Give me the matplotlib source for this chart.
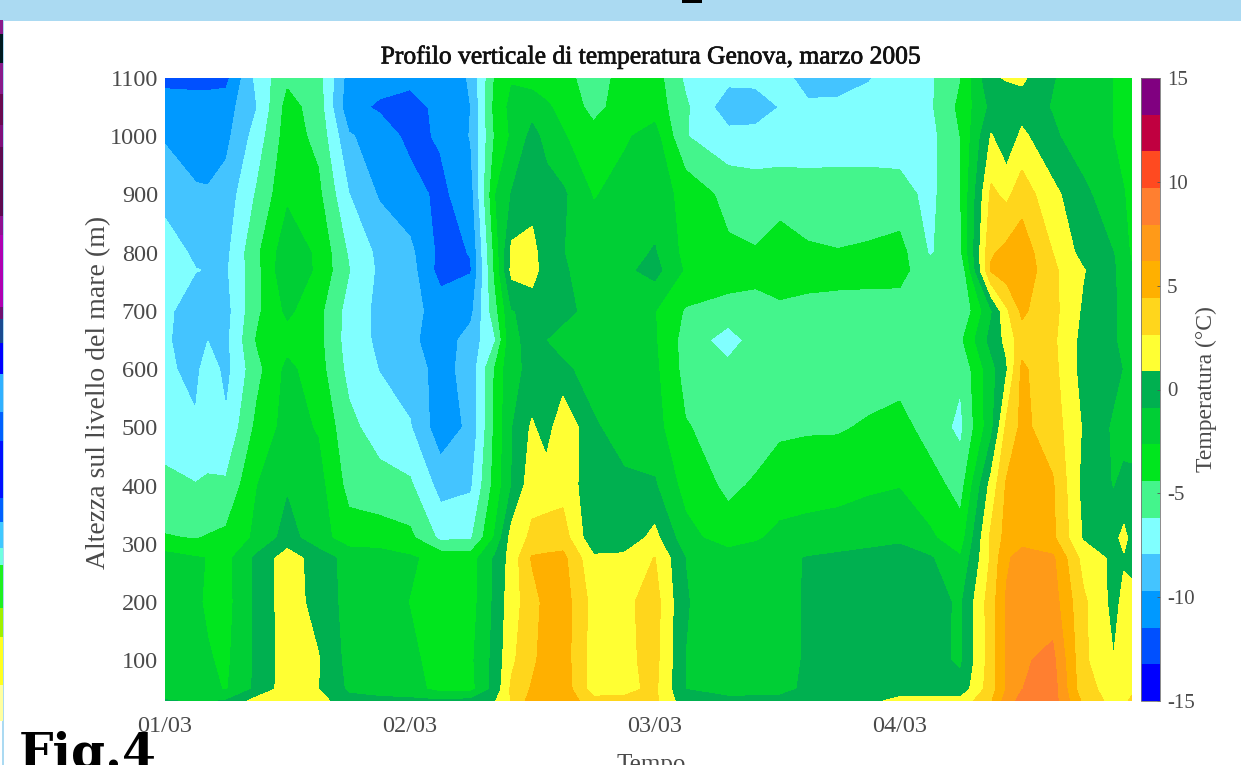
import numpy as np
import matplotlib
matplotlib.use("Agg")
import matplotlib.pyplot as plt
import matplotlib.patheffects as pe
from matplotlib.patches import Rectangle

W, H = 1241, 765

hours = [0, 3, 4.2, 6, 9, 12, 15, 18, 21, 24, 27, 30, 32.4, 34, 36, 37.4, 39, 42, 45, 48, 51,
         55.2, 57.9, 60.3, 63, 66, 69, 72, 75, 78, 81, 82.5, 84, 87, 90, 93, 94, 94.8]
heights = [1100, 1050, 1000, 900, 800, 770, 700, 650, 600, 500, 400, 310, 275, 200, 100, 50, 30]

T1100 = [-12,-12,-12,-12,-7.5,-4.8,-5.5,-10.5,-10.9,-11,-11,-9.5,-4.2,-2.8,-3.5,-3.6,-3.8,-5.3,-3.8,-3.6,-6.5,-7.5,-7.5,-7.2,-8.8,-9.2,-8.1,-7,-6.5,-4.5,0.6,1,1.2,-0.8,-1.8,-2.7,-3.1,-3.5]
T1050 = [-10.6,-10.8,-10.8,-10.5,-8,-3.8,-5.2,-11,-11.7,-12.2,-11,-9.7,-3.8,-2.2,-1.5,-2.4,-3.2,-5,-3.6,-3.4,-5.9,-9,-8.8,-7.9,-7.6,-7.3,-7.1,-7,-6.5,-4,-0.5,-0.3,0,-1,-1.8,-2.7,-3,-3.3]
T1000 = [-9.9,-10.5,-10.3,-10.2,-7.2,-3.6,-4.9,-9.5,-10.6,-11.9,-11.3,-9.6,-4.2,-2.4,-0.4,-1.4,-2.5,-3.8,-2.9,-2,-6.1,-7.4,-7.4,-7.3,-7.3,-7.2,-7.2,-7.1,-6.8,-4.4,1,-0.5,1.3,-0.6,-1.8,-2.7,-3.1,-3.4]
T900 = [-8.6,-9.5,-9.6,-9,-6,-3,-4,-7.9,-9.9,-10.8,-11.9,-10.5,-2.7,-0.8,0,-0.3,-0.6,-2.8,-2,-1.8,-3.2,-5,-5.3,-5.2,-5.3,-5.3,-5.3,-5.5,-6.7,-4.5,3,2.2,3.6,1.4,-0.5,-1.9,-2.6,-3.2]
T800 = [-7,-8.3,-8.4,-8.4,-4.8,-1.5,-3,-6.4,-8.4,-9.3,-12,-11.4,-3.8,1.3,1.6,-0.5,-0.85,-1.7,-1.6,-0.75,-3.2,-4.1,-4.3,-3.5,-4.2,-4.35,-4.2,-3.8,-6.4,-4.8,4.2,4.9,5.5,2.65,0.2,-0.9,-2,-3]
T770 = [-7,-7.9,-8,-8.2,-5,-1.2,-3,-6.1,-8.3,-9,-12.2,-11.6,-4,1.4,1.8,-0.4,-0.7,-1.7,-1.3,-0.3,-2.9,-3.4,-3.7,-3.2,-3.3,-3.5,-3.7,-3.9,-5.5,-6,4.6,5.4,5.7,3,1,-0.7,-1.8,-2.6]
T700 = [-7.6,-8.8,-8.3,-8.6,-4.8,-2.3,-3.9,-6.9,-8.4,-9.1,-10.5,-10.2,-5,-1,-0.4,-0.4,-0.4,-1.5,-1.5,-2.6,-4.6,-5.2,-5.3,-4.9,-5.3,-5.4,-5.3,-5.1,-5.7,-6.2,-1.2,2.3,4.7,3.2,0.6,-0.6,-1.7,-2.5]
T650 = [-7.7,-8.9,-8,-8.4,-4.3,-3.4,-3.9,-7,-8.3,-9.3,-10.7,-9,-6.3,-1.2,-0.5,-0.9,-1.5,-1.7,-1.9,-2.5,-5.1,-7,-5.5,-5.3,-5.3,-5.3,-5.4,-5.4,-5.5,-4.8,-0.3,1.3,3.7,3,0.3,-0.7,-1.5,-2]
T600 = [-7.6,-8.5,-7,-8.5,-5,-2.2,-3.7,-6.7,-8,-8.8,-10.4,-9,-4.2,-1.2,-0.6,-0.6,-0.6,-1.5,-1.7,-2.3,-5,-5.7,-5.4,-5.3,-5.3,-5.3,-5.3,-5.3,-5.5,-5.9,-1.6,0.6,4.7,3.2,0.2,-0.4,-1,-1.5]
T500 = [-6.9,-7.7,-6.9,-7.7,-4,-2,-2.8,-5.7,-7,-7.8,-10.8,-9.3,-4,-1,1.15,-0.2,2.5,-0.7,-1.5,-2,-4.3,-5.1,-5.3,-4.7,-4.6,-4.6,-4.2,-3.7,-5.3,-6.6,-1.5,3,4.8,3.6,0.7,-1.2,-1.6,-1.9]
T400 = [-5.8,-6.1,-6,-5.9,-2.7,-1.1,-2,-5,-5.5,-5.9,-8.6,-8.2,-3.7,-0.9,2,2,2,-0.3,-0.6,-0.7,-3.3,-4.8,-4.2,-3.6,-3.4,-3.2,-3,-2.75,-3.6,-5.2,1.5,4.6,5.6,4.6,0.3,-1,-0.4,-0.3]
T310 = [-4.3,-4.5,-4.3,-4,-2.3,-0.2,-1.9,-3.6,-3.6,-4,-6.6,-6.4,-2.4,1.6,3,3.2,3.5,-0.5,-0.3,1.4,-2,-3.6,-2.9,-2.2,-2,-1.9,-1.3,-1.1,-2.4,-3.6,3,5,5.8,4.8,0.7,0.4,1.3,0.3]
T275 = [-1.9,-2.5,-2.7,-3.2,-0.5,1.8,0,-1.5,-1.8,-2.4,-3.3,-3.5,-0.6,1.6,4.6,4.8,4.9,1.2,1.3,2.7,-0.9,-1.7,-1.6,-1.3,-0.8,-0.5,-0.5,-0.4,-0.7,-2.5,2.9,6,6.6,6.5,2,0.5,0.7,0.2]
T200 = [-1.9,-2.4,-2.9,-3.3,-0.5,1.8,0.2,-1.5,-1.8,-2.7,-3.4,-3.4,-0.5,1.9,3.6,5,5.3,2,2.2,3.4,-0.8,-1.7,-1.7,-1.5,-0.7,-0.3,-0.3,-0.3,-0.2,-1.2,3.6,6.3,7,7,3,0.3,1.3,1.6]
T100 = [-1.9,-2,-2.5,-3,-0.6,1.8,1,-1.5,-1.8,-2.3,-3.3,-3,-0.3,2.3,4,5.2,5.3,1.8,2.2,3.2,-0.9,-1.8,-1.7,-1.5,-0.7,-0.3,-0.3,-0.3,-0.3,-1.2,3.5,6.4,7.7,8.4,3,0.9,1.8,1.8]
T50 = [-1.9,-1.9,-2.2,-2.8,-0.5,1.8,0.9,-1.2,-1.7,-2,-3.2,-3.2,-0.2,3,4.6,5.3,5.5,1.8,2.2,3,-0.9,-1.8,-1.7,-1.5,-0.5,-0.3,-0.3,-0.3,-0.3,-0.3,3.6,6.3,7.9,8.8,3.2,2,2,2.2]
T30 = [-0.8,-1,-1,-0.8,1.6,1.8,1.6,-0.3,-0.4,-0.5,-0.7,-0.4,0.8,2.8,5.2,5.5,5.8,3.2,3,3,-0.2,-0.3,-0.3,-0.3,-0.3,-0.3,0.3,1.5,1.5,1.5,4.2,7,8.5,8.8,4,2,2.2,3]

temperature = [T1100, T1050, T1000, T900, T800, T770, T700, T650, T600, T500, T400, T310, T275, T200, T100, T50, T30]

band_colors = ["#0000FF", "#0050FF", "#0099FF", "#44C4FF", "#80FFFF", "#44F58C", "#00E61E", "#00CF35",
               "#00B050", "#FFFF33", "#FFD61C", "#FFB000", "#FF9A18", "#FF7F30", "#FF4A20", "#C00040", "#800080"]
levels = np.linspace(-15, 15, 18)

y_ticks = [100, 200, 300, 400, 500, 600, 700, 800, 900, 1000, 1100]
x_ticks = [0, 24, 48, 72]
x_labels = ["01/03", "02/03", "03/03", "04/03"]
cb_ticks = [-15, -10, -5, 0, 5, 10, 15]
cb_labels = ["-15", "-10", "-5", "0", "5", "10", "15"]

strip_stops = [20, 34, 63, 94, 125, 147, 216, 235, 307, 319, 343, 374, 412, 441, 498, 522, 548, 565, 608, 637, 685, 721]
strip_colors = ["#8B1A8B", "#001A20", "#8A1A8A", "#6A0A50", "#80107A", "#5F0A50", "#901090", "#B000B0", "#701070",
                "#1A4A90", "#0000FF", "#30B0FF", "#0060FF", "#0010FF", "#0060FF", "#40C8FF", "#70FFE0", "#20F020",
                "#A0F000", "#FFFF20", "#FFFFA0"]

plt.rcParams["font.family"] = ["Liberation Serif", "DejaVu Serif"]
GREY = "#4A4A4A"
fig = plt.figure(figsize=(W / 100, H / 100), dpi=100, facecolor="white")


def box(x0, y0, x1, y1):
    return [x0 / W, 1 - y1 / H, (x1 - x0) / W, (y1 - y0) / H]


def rect(x0, y0, x1, y1, color):
    l, b, w, h = box(x0, y0, x1, y1)
    fig.add_artist(Rectangle((l, b), w, h, transform=fig.transFigure, facecolor=color, edgecolor="none"))


# page decoration
rect(0, 0, W, 21, "#ABDAF2")
rect(682, 0, 702, 3, "#000000")
rect(2.5, 21, 4, H, "#ABDAF2")
for y0, y1, c in zip(strip_stops[:-1], strip_stops[1:], strip_colors):
    rect(0, y0, 2.7, y1, c)

ax = fig.add_axes(box(165, 78, 1132, 701))
cs = ax.contourf(hours, heights, np.array(temperature), levels=levels, colors=band_colors)
cs.set_edgecolor("face")
cs.set_linewidth(0.4)
ax.set_xlim(0, 94.8)
ax.set_ylim(30, 1100)
ax.set_xticks(x_ticks)
ax.set_xticklabels(x_labels)
ax.set_yticks(y_ticks)
ax.tick_params(axis="both", length=0, labelsize=17.5, labelcolor=GREY)
ax.tick_params(axis="x", pad=11)
ax.tick_params(axis="y", pad=5)
for s in ax.spines.values():
    s.set_visible(False)

cax = fig.add_axes(box(1141, 78, 1160, 701))
cb = fig.colorbar(cs, cax=cax, ticks=cb_ticks, drawedges=False)
cb.ax.set_yticklabels(cb_labels)
cb.ax.tick_params(length=2.5, width=0.6, direction="in", labelsize=15, labelcolor=GREY, color="#555555", pad=5)
cb.outline.set_edgecolor("#777777")
cb.outline.set_linewidth(0.6)

title = fig.text(650 / W, 1 - 57 / H, "Profilo verticale di temperatura Genova, marzo 2005",
                 ha="center", va="center", fontsize=18.4, color="#111111")
title.set_path_effects([pe.withStroke(linewidth=0.5, foreground="#111111")])
fig.text(99 / W, 1 - 392 / H, "Altezza sul livello del mare (m)", rotation=90,
         ha="center", va="center", fontsize=20, color=GREY)
fig.text(1206 / W, 1 - 389 / H, "Temperatura (°C)", rotation=90,
         ha="center", va="center", fontsize=17, color=GREY)
fig.text(651 / W, 1 - 765 / H, "Tempo", ha="center", va="center", fontsize=18, color=GREY)
fig.text(19 / W, 1 - 767 / H, "Fig.4", ha="left", va="baseline", fontsize=35, fontweight="bold",
         family=["DejaVu Serif"], color="black")

fig.savefig("out.png", dpi=100, facecolor="white")
